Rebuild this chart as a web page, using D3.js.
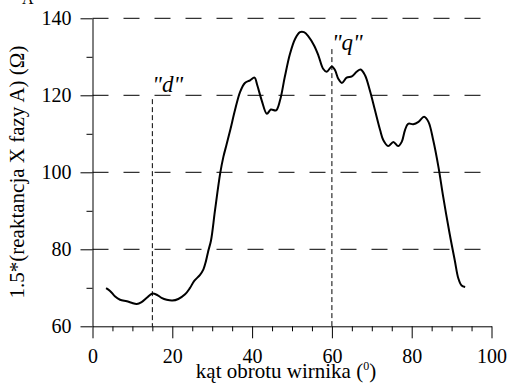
<!DOCTYPE html>
<html><head><meta charset="utf-8">
<script src="https://cdn.jsdelivr.net/npm/d3@7"></script>
<style>
body{margin:0;background:#fff;}
svg, svg text{font-family:"Liberation Serif","Times New Roman",Tinos,"DejaVu Serif",serif !important;}
</style></head>
<body>
<svg id="c" width="508" height="386"></svg>
<script>
const angle = [3.4,4.4,5.6,6.9,8.6,9.8,11.1,12.3,13.6,15.0,16.1,17.3,18.6,20.0,21.5,23.2,24.4,25.5,26.9,27.8,28.4,29.0,29.7,30.7,32.0,32.8,33.6,34.6,35.7,37.0,38.2,39.5,40.6,41.3,42.4,43.7,44.7,46.0,47.0,48.2,49.5,50.8,52.0,53.0,54.1,55.5,56.6,57.8,58.7,60.0,60.8,61.6,62.5,63.7,65.0,66.2,67.2,68.3,69.5,70.8,72.1,72.9,74.1,75.4,76.6,77.5,78.3,79.1,80.4,81.7,83.1,84.2,85.4,86.7,87.9,89.5,90.8,91.7,92.5,93.4];
const reactance = [69.9,69.2,67.8,66.9,66.5,66.1,65.8,66.3,67.4,68.5,68.2,67.4,66.9,66.7,67.1,68.3,69.9,71.8,73.3,74.8,76.8,79.5,82.3,90.1,99.7,104.0,107.2,111.3,116.1,120.9,123.2,123.9,124.6,122.6,118.7,115.2,116.3,116.1,118.7,124.8,130.8,134.7,136.4,136.4,135.3,133.0,130.4,126.9,126.1,127.5,126.5,124.3,123.2,124.6,124.9,126.1,126.7,125.2,121.3,116.1,110.9,108.3,106.8,107.9,106.8,107.9,110.9,112.6,112.5,113.1,114.4,113.1,108.3,101.4,93.6,84.1,77.1,72.4,70.6,70.2];
const xTicks = [0,20,40,60,80,100];
const xMinorTicks = [5,10,15,25,30,35,45,50,55,65,70,75,85,90,95];
const yTicks = [60,80,100,120,140];
const yMinorTicks = [70,90,110,130];
const gridValues = [80,100,120,140];
const markers = [{x:15, top:119, label:'"d"'},{x:60, top:132, label:'"q"'}];
const xLabelMain = "kąt obrotu wirnika (";
const xLabelSup = "0";
const xLabelEnd = ")";
const yLabel = "1.5*(reaktancja X fazy A) (Ω)";

const svg = d3.select("#c");
const L = 92.5, R = 491.5, T = 18.3, B = 326.3;
const x = d3.scaleLinear().domain([0,100]).range([L,R]);
const y = d3.scaleLinear().domain([60,140]).range([B,T]);

svg.append("g").selectAll("line").data(gridValues).join("line")
  .attr("x1",L).attr("x2",R).attr("y1",d=>y(d)).attr("y2",d=>y(d))
  .attr("stroke","#000").attr("stroke-width",1).attr("stroke-dasharray","16,15");

svg.append("g").selectAll("line").data(markers).join("line")
  .attr("x1",d=>x(d.x)).attr("x2",d=>x(d.x)).attr("y1",d=>y(d.top)).attr("y2",B)
  .attr("stroke","#000").attr("stroke-width",1).attr("stroke-dasharray","5,3");
svg.append("g").selectAll("text").data(markers).join("text")
  .attr("x",d=>x(d.x)).attr("y",d=>d.x===15?92:50)
  .attr("font-style","italic").attr("font-size",23).text(d=>d.label);

svg.append("g").attr("transform",`translate(0,${B})`)
  .call(d3.axisBottom(x).tickValues(xTicks).tickSize(12).tickSizeOuter(0).tickPadding(11));
svg.append("g").attr("transform",`translate(0,${B})`)
  .call(d3.axisBottom(x).tickValues(xMinorTicks).tickSize(5).tickFormat("").tickSizeOuter(0))
  .select(".domain").remove();
svg.append("g").attr("transform",`translate(${L},0)`)
  .call(d3.axisLeft(y).tickValues(yTicks).tickSize(12).tickSizeOuter(0).tickPadding(9));
svg.append("g").attr("transform",`translate(${L},0)`)
  .call(d3.axisLeft(y).tickValues(yMinorTicks).tickSize(6).tickFormat("").tickSizeOuter(0))
  .select(".domain").remove();
svg.selectAll("g").attr("font-family",null);
svg.selectAll(".tick text").attr("font-size",20).attr("fill","#000");
svg.selectAll(".domain,.tick line").attr("stroke","#000").attr("stroke-width",1);

const pts = angle.map((a,i)=>[a,reactance[i]]);
svg.append("path").datum(pts)
  .attr("d",d3.line().x(d=>x(d[0])).y(d=>y(d[1])).curve(d3.curveCatmullRom.alpha(0.5)))
  .attr("fill","none").attr("stroke","#000").attr("stroke-width",2);

const xl = svg.append("text").attr("x",286).attr("y",378).attr("text-anchor","middle").attr("font-size",21);
xl.append("tspan").text(xLabelMain);
xl.append("tspan").attr("font-size",12).attr("dy",-8).text(xLabelSup);
xl.append("tspan").attr("dy",8).text(xLabelEnd);
svg.append("text").attr("transform","translate(24,172) rotate(-90)").attr("text-anchor","middle")
  .attr("font-size",21).text(yLabel);
svg.append("text").attr("x",22).attr("y",4).attr("font-size",16).text("A");
</script>
</body></html>
